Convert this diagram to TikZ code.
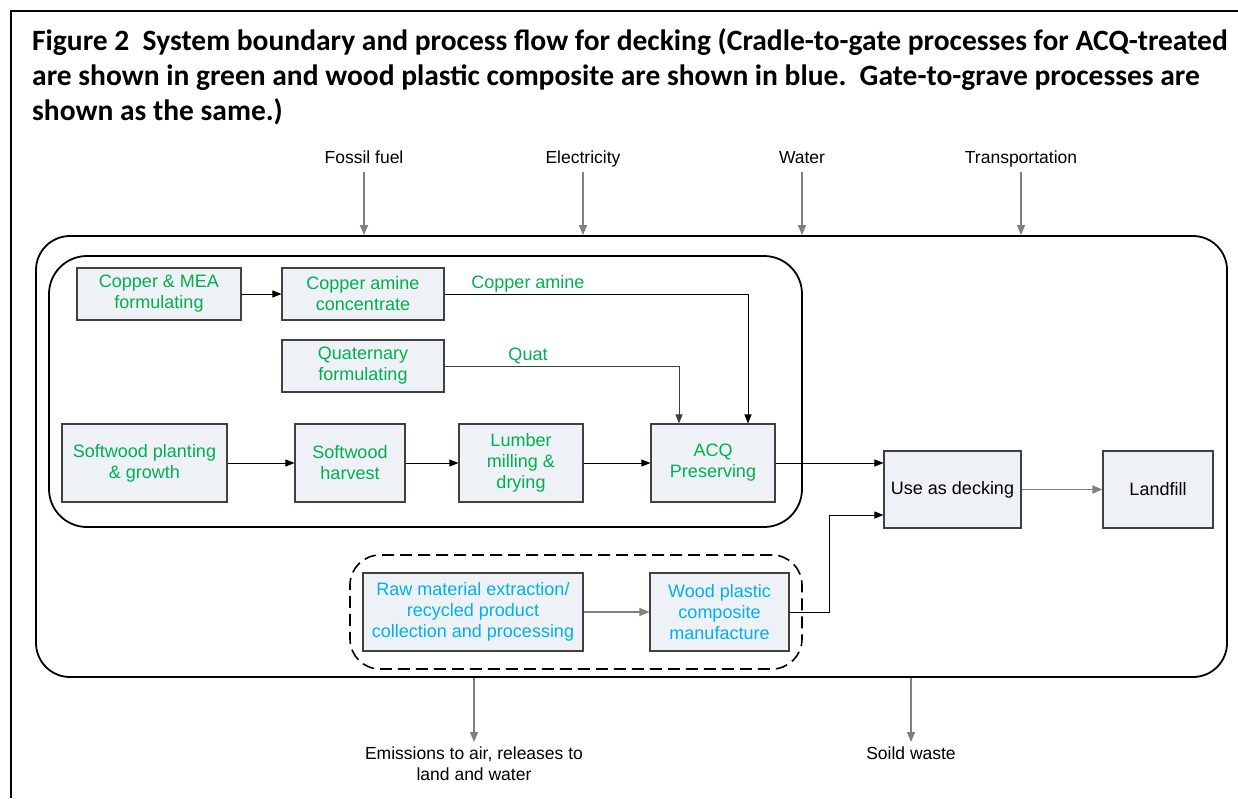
\documentclass[tikz,border=0pt]{standalone}
\usepackage{fontspec}
\setmainfont{Liberation Sans}
\newfontfamily\titlefont{Carlito}
\usetikzlibrary{arrows.meta}
\definecolor{grn}{RGB}{0,176,80}
\definecolor{blu}{RGB}{0,176,240}
\definecolor{boxfill}{RGB}{238,241,246}
\definecolor{boxline}{RGB}{64,64,64}
\definecolor{gline}{RGB}{128,128,128}
\begin{document}
\begin{tikzpicture}[x=1pt,y=-1pt,
  box/.style={draw=boxline, line width=1.1pt, fill=boxfill, align=center, inner sep=2pt, font=\fontsize{18}{21}\selectfont},
  gbox/.style={box, text=grn},
  bbox/.style={box, text=blu},
  kbox/.style={box, text=black},
  arr/.style={draw=black, line width=0.9pt, -{Triangle[length=9pt,width=7pt]}},
  garr/.style={draw=gline, line width=1.4pt, -{Triangle[length=10pt,width=8pt]}},
  lbl/.style={font=\fontsize{17.5}{21}\selectfont, align=center, inner sep=0pt},
  title/.style={font=\titlefont\bfseries\fontsize{29.5}{35}\selectfont, inner sep=0pt, anchor=base west},
  grp/.style={draw=black, line width=1.8pt, inner sep=0pt},
  ]
\useasboundingbox (0,0) rectangle (1238,798);
\fill[white] (0,0) rectangle (1238,798);
% outer frame
\draw[line width=2pt] (11,798) -- (11,11) -- (1238,11);
% title
\node[title] (t1) at (32,50) {Figure 2\ \ System boundary and process flow for decking (Cradle-to-gate processes for ACQ-treated};
\node[title] (t2) at (32,85) {are shown in green and wood plastic composite are shown in blue.\ \ Gate-to-grave processes are};
\node[title] (t3) at (32,120) {shown as the same.)};
% boundaries
\node[grp, rounded corners=34, minimum width=1191, minimum height=441] (bnd) at (631.5,456.5) {};
\node[grp, rounded corners=38, minimum width=753, minimum height=271] (acqgrp) at (425.5,391.5) {};
\node[grp, line width=1.6pt, dash pattern=on 12pt off 6pt, rounded corners=30, minimum width=452, minimum height=114] (wpcgrp) at (576,612) {};
% inputs
\node[lbl, anchor=base, text depth=0pt] (ff) at (364,163) {Fossil fuel};
\node[lbl, anchor=base, text depth=0pt] (el) at (583,163) {Electricity};
\node[lbl, anchor=base, text depth=0pt] (wa) at (802,163) {Water};
\node[lbl, anchor=base, text depth=0pt] (tr) at (1021,163) {Transportation};
\foreach \n in {ff,el,wa,tr}
  \draw[garr] ([yshift=-9pt]\n.south) -- (\n.south |- bnd.north);
% outputs
\node[lbl, anchor=north] (em) at (474,747) {Emissions to air, releases to\\land and water};
\node[lbl, anchor=north] (sw) at (911,747) {Soild waste};
\draw[garr] (em.north |- bnd.south) -- ([yshift=5pt]em.north);
\draw[garr] (sw.north |- bnd.south) -- ([yshift=5pt]sw.north);
% boxes
\node[gbox, minimum width=164, minimum height=52] (cmea) at (159,294) {Copper \& MEA\\formulating};
\node[gbox, minimum width=162, minimum height=52] (cac) at (363,294) {Copper amine\\concentrate};
\node[gbox, minimum width=162, minimum height=52] (quat) at (363,366) {Quaternary\\formulating};
\node[gbox, minimum width=165, minimum height=78] (swp) at (144.5,463) {Softwood planting\\\& growth};
\node[gbox, minimum width=110, minimum height=78] (swh) at (350,463) {Softwood\\harvest};
\node[gbox, minimum width=124, minimum height=78] (lum) at (521,463) {Lumber\\milling \&\\drying};
\node[gbox, minimum width=124, minimum height=78] (acq) at (713,463) {ACQ\\Preserving};
\node[kbox, minimum width=137, minimum height=77] (use) at (952.5,489.5) {Use as decking};
\node[kbox, minimum width=110, minimum height=77] (land) at (1158,489.5) {Landfill};
\node[bbox, minimum width=220, minimum height=78] (raw) at (473,612) {Raw material extraction/\\recycled product\\collection and processing};
\node[bbox, minimum width=139, minimum height=78] (wpc) at (719.5,612) {Wood plastic\\composite\\manufacture};
% connectors
\draw[arr] (cmea) -- (cac);
\draw[arr] (cac.east) -| ([xshift=35pt]acq.north);
\draw[arr, draw=black!75] (quat.east) -| ([xshift=-34pt]acq.north);
\node[lbl, text=grn, font=\fontsize{18}{21}\selectfont] (lca) at (528,284) {Copper amine};
\node[lbl, text=grn, font=\fontsize{18}{21}\selectfont] (lq) at (528,356) {Quat};
\draw[arr] (swp) -- (swh);
\draw[arr] (swh) -- (lum);
\draw[arr] (lum) -- (acq);
\draw[arr] (acq.east) -- (acq.east -| use.west);
\coordinate (j) at (829,515);
\draw[arr] (wpc.east) -| (j) -- (j -| use.west);
\draw[garr, line width=1.3pt] (raw) -- (wpc);
\draw[garr, line width=1.3pt] (use) -- (land);
\end{tikzpicture}
\end{document}
